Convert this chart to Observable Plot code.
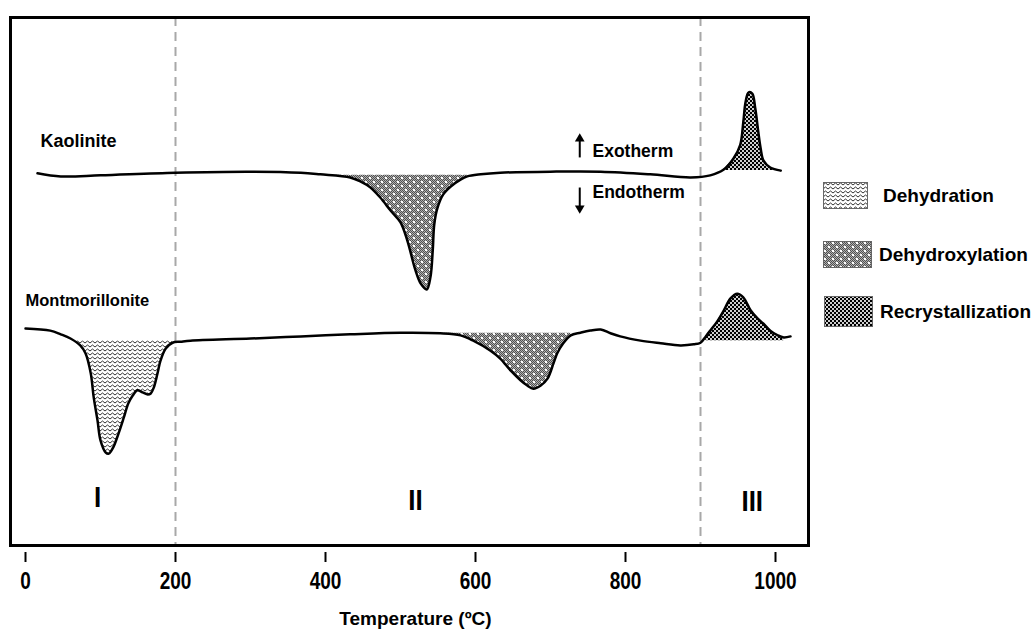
<!DOCTYPE html>
<html>
<head>
<meta charset="utf-8">
<script src="https://cdn.jsdelivr.net/npm/d3@7"></script>
<script src="https://cdn.jsdelivr.net/npm/@observablehq/plot@0.6"></script>
<style>
  body { margin: 0; background: #fff; }
  #chart { position: relative; width: 1036px; height: 629px; }
  .legend-item { position: absolute; display: flex; align-items: center;
    font: bold 19px "Liberation Sans", Arial, sans-serif; color: #000; white-space: nowrap; }
  .legend-item svg { display: block; }
  .legend-item:nth-child(1) { left: 823px; top: 182px; gap: 15px; }
  .legend-item:nth-child(2) { left: 823px; top: 241px; gap: 7px; }
  .legend-item:nth-child(3) { left: 824px; top: 296px; gap: 7px; }
</style>
</head>
<body>
<!-- Fill textures shared by the chart and the legend -->
<svg width="0" height="0" style="position:absolute">
  <defs>
    <pattern id="dither" width="2" height="2" patternUnits="userSpaceOnUse">
      <rect width="2" height="2" fill="#b0b0b0"/>
      <rect x="0" y="0" width="1" height="1" fill="#505050"/>
      <rect x="1" y="1" width="1" height="1" fill="#505050"/>
    </pattern>
    <pattern id="dehydration" width="5" height="4" patternUnits="userSpaceOnUse">
      <rect width="5" height="4" fill="#fff"/>
      <path d="M0,3 L2.5,1 L5,3" fill="none" stroke="#000" stroke-width="0.8"/>
    </pattern>
    <pattern id="dehydroxylation" width="8" height="8" patternUnits="userSpaceOnUse">
      <rect width="8" height="8" fill="url(#dither)"/>
      <rect x="1" y="1" width="2" height="2" fill="#fff"/>
      <rect x="5" y="5" width="2" height="2" fill="#fff"/>
    </pattern>
    <pattern id="recrystallization" width="4" height="4" patternUnits="userSpaceOnUse">
      <rect width="4" height="4" fill="#000"/>
      <rect x="0.1" y="0.1" width="1.8" height="1.8" fill="#fff"/>
      <rect x="2.1" y="2.1" width="1.8" height="1.8" fill="#fff"/>
    </pattern>
  </defs>
</svg>
<div id="chart"></div>
<script>
// DTA traces (temperature in °C, signal in arbitrary units, exotherm up)
const kaoliniteT = [16, 47, 100, 200, 300, 367, 393, 433, 447, 460, 473, 487, 500, 509, 520, 527, 535, 540, 543, 545, 549, 557, 567, 580, 589, 607, 633, 700, 767, 833, 887, 913, 931, 944, 953, 957, 960, 964, 969, 973, 977, 980, 984, 993, 1007];
const kaoliniteSignal = [70.5, 69.9, 70.1, 70.6, 70.8, 70.6, 70.3, 69.7, 68.9, 67.8, 65.9, 63.4, 61.2, 57.8, 52.1, 49.6, 48.5, 50.9, 55.9, 60.8, 63.8, 66.5, 68.0, 69.3, 69.9, 70.3, 70.6, 70.8, 70.8, 70.3, 69.7, 70.1, 71.2, 73.3, 75.9, 80.1, 83.9, 85.8, 85.6, 82.8, 78.4, 75.4, 72.9, 71.6, 71.0];

const montmorilloniteT = [0, 33, 47, 60, 73, 80, 87, 91, 96, 100, 107, 111, 117, 124, 131, 137, 143, 149, 156, 163, 167, 171, 176, 180, 187, 196, 207, 220, 300, 367, 433, 500, 553, 580, 597, 620, 633, 647, 660, 669, 677, 687, 696, 704, 709, 717, 727, 740, 753, 767, 780, 793, 820, 847, 873, 891, 900, 907, 913, 923, 931, 940, 949, 957, 967, 976, 984, 993, 1003, 1011, 1020];
const montmorilloniteSignal = [41.1, 40.7, 40.0, 39.2, 37.9, 36.4, 32.6, 28.0, 23.7, 19.9, 17.6, 17.4, 18.6, 21.2, 24.2, 26.9, 28.4, 29.4, 29.0, 28.6, 28.8, 29.9, 32.6, 35.0, 37.3, 38.4, 38.6, 38.8, 39.2, 39.6, 40.0, 40.3, 40.2, 39.8, 38.8, 36.9, 35.4, 33.1, 31.3, 30.3, 29.7, 30.3, 31.6, 34.5, 36.4, 38.3, 39.8, 40.3, 40.7, 40.9, 40.2, 39.6, 38.8, 38.3, 37.9, 38.1, 38.4, 39.6, 40.7, 42.6, 44.5, 46.8, 47.7, 47.0, 44.5, 43.0, 42.0, 40.7, 39.8, 39.4, 39.6];

// Thermal events shaded under each trace
const eventCurve = ["Kaolinite", "Kaolinite", "Montmorillonite", "Montmorillonite", "Montmorillonite"];
const eventStage = ["Dehydroxylation", "Recrystallization", "Dehydration", "Dehydroxylation", "Recrystallization"];
const eventFrom = [393, 931, 60, 553, 907];
const eventTo = [589, 1007, 196, 727, 1011];
const eventBaseline = [70.1, 71.0, 38.8, 40.2, 38.8];

const stages = ["Dehydration", "Dehydroxylation", "Recrystallization"];

// Axis ticks and stage boundaries
const xTicks = [0, 200, 400, 600, 800, 1000];
const stageBounds = [200, 900];
const stageNumerals = ["I", "II", "III"];
const stageNumeralT = [96, 520, 969];
const stageNumeralSignal = [9.1, 8.5, 8.3];

// Trace names and heat-flow direction notes
const curveNames = ["Kaolinite", "Montmorillonite"];
const curveNameT = [20, 0];
const curveNameSignal = [76.6, 46.4];
const directionText = ["Exotherm", "Endotherm"];
const directionT = [756, 756];
const directionSignal = [74.6, 66.8];
const arrowT = [739, 739];
const arrowTail = [73.5, 67.8];
const arrowTip = [77.6, 63.3];

const traces = [
  {name: "Kaolinite", T: kaoliniteT, S: kaoliniteSignal},
  {name: "Montmorillonite", T: montmorilloniteT, S: montmorilloniteSignal}
];
const points = traces.flatMap(c => c.T.map((t, i) => ({curve: c.name, T: t, S: c.S[i]})));
const patternOf = stage => `url(#${stage.toLowerCase()})`;

const eventAreas = eventStage.map((stage, k) => {
  const rows = points
    .filter(d => d.curve === eventCurve[k] && d.T >= eventFrom[k] && d.T <= eventTo[k])
    .map(d => ({...d, base: eventBaseline[k]}));
  return Plot.areaY(rows, {x: "T", y1: "base", y2: "S", fill: patternOf(stage), curve: "catmull-rom"});
});

const arrows = arrowT.map((t, i) => ({T: t, tail: arrowTail[i], tip: arrowTip[i]}));
const sans = "'Liberation Sans', Arial, sans-serif";

const chart = Plot.plot({
  width: 1036,
  height: 629,
  marginLeft: 10,
  marginRight: 228,
  marginTop: 17,
  marginBottom: 84,
  style: {background: "#fff", color: "#000", fontFamily: sans},
  x: {domain: [-20, 1044], axis: null},
  y: {domain: [0, 100], axis: null},
  marks: [
    Plot.ruleX(stageBounds, {stroke: "#a8a8a8", strokeWidth: 2, strokeDasharray: "9,6"}),
    ...eventAreas,
    Plot.line(points, {x: "T", y: "S", z: "curve", stroke: "#000", strokeWidth: 2.5, curve: "catmull-rom"}),
    Plot.text(curveNames, {x: curveNameT, y: curveNameSignal, text: d => d, textAnchor: "start",
      fontSize: [18, 16.5], fontWeight: "bold", fill: "#000"}),
    Plot.text(directionText, {x: directionT, y: directionSignal, text: d => d, textAnchor: "start",
      fontSize: 17.5, fontWeight: "bold", fill: "#000"}),
    // heat-flow arrows: shaft plus a solid triangular head
    Plot.link(arrows, {x1: "T", x2: "T", y1: "tail", y2: "tip", stroke: "#000", strokeWidth: 2}),
    Plot.dot(arrows.filter(d => d.tip > d.tail), {x: "T", y: "tip", symbol: "triangle", r: 3.6, fill: "#000", dy: 3}),
    Plot.dot(arrows.filter(d => d.tip < d.tail), {x: "T", y: "tip", symbol: "triangle", r: 3.6, fill: "#000", rotate: 180, dy: -3}),
    Plot.text(stageNumerals, {x: stageNumeralT, y: stageNumeralSignal, text: d => d, className: "tall",
      fontSize: 26, fontWeight: "bold", fill: "#000"}),
    Plot.frame({stroke: "#000", strokeWidth: 3}),
    Plot.axisX(xTicks, {tickSize: 10, tickPadding: 10, dy: 7, strokeWidth: 2, tickFormat: d3.format("d"),
      fontSize: 19, fontWeight: "bold", label: null}),
    Plot.text(["Temperature (ºC)"], {frameAnchor: "bottom", lineAnchor: "middle", dy: 73, dx: 6,
      fontSize: 19, fontWeight: "bold", fill: "#000"})
  ]
});

// Condensed look for tick labels and stage numerals: stretch the glyphs vertically about their anchor
function stretchText(el, sy) {
  const t = el.getAttribute("transform") || "";
  el.setAttribute("transform", `${t} scale(1,${sy})`);
}
chart.querySelectorAll('g[aria-label="x-axis tick label"] text').forEach(el => stretchText(el, 1.25));
chart.querySelectorAll('g.tall text').forEach(el => stretchText(el, 1.15));

const container = document.getElementById("chart");
container.appendChild(chart);

// Legend of thermal stages, filled with the same textures
const legend = document.createElement("div");
const swatchSizes = [[45, 27], [49, 27], [49, 31]];
stages.forEach((stage, i) => {
  const item = document.createElement("div");
  item.className = "legend-item";
  const [w, h] = swatchSizes[i];
  item.innerHTML = `<svg width="${w}" height="${h}"><rect x="0.5" y="0.5" width="${w - 1}" height="${h - 1}" fill="${patternOf(stage)}" stroke="#666" stroke-width="1"/></svg><span>${stage}</span>`;
  legend.appendChild(item);
});
container.appendChild(legend);
</script>
</body>
</html>
